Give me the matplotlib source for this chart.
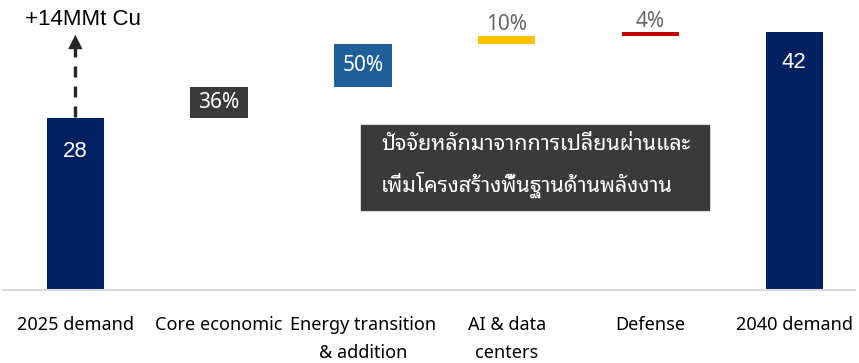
import matplotlib
matplotlib.use("Agg")
import matplotlib.pyplot as plt
from matplotlib.patches import Rectangle
import numpy as np

categories = ["2025 demand", "Core economic", "Energy transition\n& addition",
              "AI & data\ncenters", "Defense", "2040 demand"]
start_value = 28
end_value = 42
step_values = [5.0, 7.0, 1.4, 0.6]
step_labels = ["36%", "50%", "10%", "4%"]
step_colors = ["#3a3a3a", "#1f5f99", "#ffc000", "#c00000"]
total_label = "+14MMt Cu"
note_lines = ["ปัจจัยหลักมาจากการเปลี่ยนผ่านและ", "เพิ่มโครงสร้างพื้นฐานด้านพลังงาน"]

plt.rcParams["font.family"] = ["Noto Sans", "DejaVu Sans"]

fig = plt.figure(figsize=(8.59, 3.63), dpi=100)
ax = fig.add_axes([0.004, 0.201, 0.991, 0.799])

x = np.arange(len(categories))
w = 0.4
navy = "#002060"
arial = ["Liberation Sans", "DejaVu Sans"]

ax.bar(x[0], start_value, width=w, color=navy)
ax.bar(x[-1], end_value, width=w, color=navy)
ax.text(x[0], start_value - 5.5, str(start_value), color="white", ha="center", va="center",
        fontsize=16, family=arial)
ax.text(x[-1], end_value - 5.0, str(end_value), color="white", ha="center", va="center",
        fontsize=16, family=arial)

bottoms = start_value + np.concatenate([[0], np.cumsum(step_values)[:-1]])
for i, (v, b, lab, c) in enumerate(zip(step_values, bottoms, step_labels, step_colors)):
    ax.bar(x[i + 1], v, bottom=b, width=w, color=c)
    if v > 3:
        ax.text(x[i + 1], b + v / 2, lab, color="white", ha="center", va="center",
                fontsize=15, fontweight="bold")
    else:
        ax.text(x[i + 1], b + v + 0.05, lab, color="#666666", ha="center", va="bottom", fontsize=15,
                fontweight="light")

# dashed arrow on first bar
ax.plot([x[0], x[0]], [start_value + 0.2, 39.4], color="#262626", lw=2.4, dashes=(3.3, 2.7))
ax.annotate("", xy=(x[0], 42.0), xytext=(x[0], 39.0),
            arrowprops=dict(arrowstyle="-|>", mutation_scale=26, color="#262626", lw=0))
ax.text(x[0] + 0.05, 44.1, total_label, ha="center", va="center", fontsize=16,
        color="black", family=arial)

# note box
ax.add_patch(Rectangle((1.988, 13.0), 2.42, 13.9, color="#3a3a3a", zorder=3))
note_font = ["Noto Sans Thai Looped", "Noto Sans Thai", "DejaVu Sans"]
ax.text(2.126, 23.7, note_lines[0], color="white", ha="left", va="center", fontsize=15.5,
        family=note_font, fontweight="light", zorder=4)
ax.text(2.126, 17.2, note_lines[1], color="white", ha="left", va="center", fontsize=15.5,
        family=note_font, fontweight="light", zorder=4)

ax.set_xlim(-0.5, 5.42)
ax.set_ylim(0, 47.2)
ax.set_xticks(x)
ax.set_xticklabels(categories, fontsize=13, linespacing=1.65)
ax.tick_params(axis="x", length=0, pad=19)
ax.set_yticks([])
for s in ["top", "right", "left"]:
    ax.spines[s].set_visible(False)
ax.spines["bottom"].set_color("#d9d9d9")
ax.spines["bottom"].set_linewidth(1.5)

fig.savefig("out.png", dpi=100)
